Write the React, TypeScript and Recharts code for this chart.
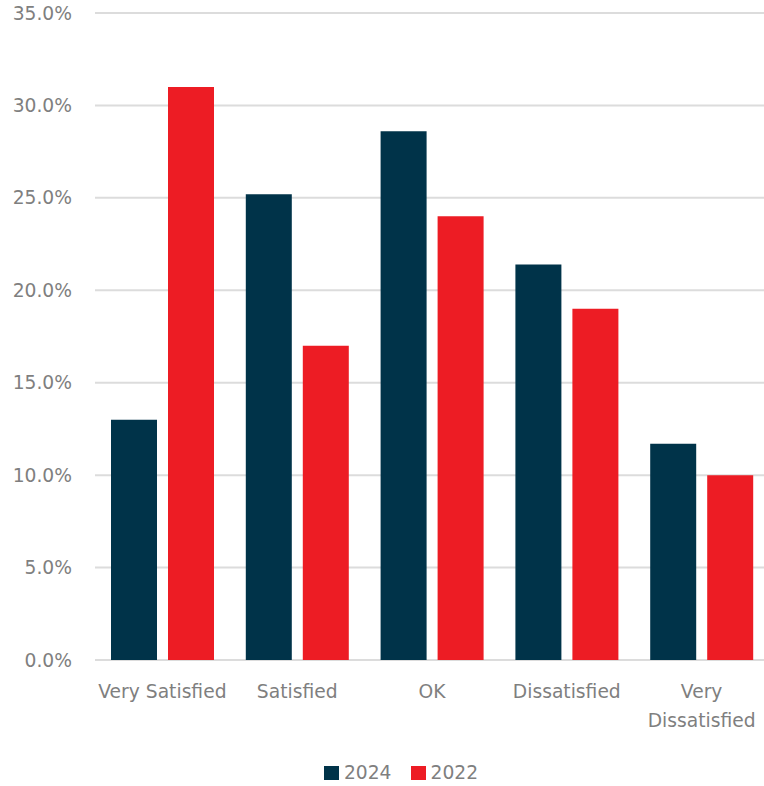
import React from "react";
import { BarChart, Bar, XAxis, YAxis, CartesianGrid, Legend } from "recharts";

// Satisfaction survey results, share of respondents (%)
const categories = ["Very Satisfied", "Satisfied", "OK", "Dissatisfied", "Very Dissatisfied"];
const values2024 = [13.0, 25.2, 28.6, 21.4, 11.7];
const values2022 = [31.0, 17.0, 24.0, 19.0, 10.0];
const seriesNames = ["2024", "2022"];
const yTicks = [0, 5, 10, 15, 20, 25, 30, 35];

const NAVY = "#003349";
const RED = "#ED1C24";
const TEXT = "#7f7f7f";
const FONT = "'DejaVu Sans', sans-serif";
const FONT_SIZE = 18.7;

const data = categories.map((name, i) => ({
  name,
  y2024: values2024[i],
  y2022: values2022[i],
}));

// Long category names are broken onto two lines under the bars
const splitLabel = (label: string): string[] => {
  if (label.length <= 15) return [label];
  const idx = label.indexOf(" ");
  return idx < 0 ? [label] : [label.slice(0, idx), label.slice(idx + 1)];
};

const CategoryTick = (props: any) => {
  const { x, y, payload } = props;
  const lines = splitLabel(String(payload.value));
  return (
    <text
      x={x}
      y={y}
      textAnchor="middle"
      fill={TEXT}
      fontFamily={FONT}
      fontSize={FONT_SIZE}
    >
      {lines.map((line, i) => (
        <tspan key={i} x={x} dy={i === 0 ? 38 : 29}>
          {line}
        </tspan>
      ))}
    </text>
  );
};

// Legend entries kept in series order (2024 first)
const LegendContent = (props: any) => {
  const payload = [...(props.payload || [])].sort(
    (a: any, b: any) => seriesNames.indexOf(a.value) - seriesNames.indexOf(b.value)
  );
  return (
    <div
      style={{
        height: 28,
        display: "flex",
        justifyContent: "center",
        alignItems: "center",
        fontFamily: FONT,
        fontSize: FONT_SIZE,
        color: TEXT,
        paddingLeft: 33,
        boxSizing: "border-box",
      }}
    >
      {payload.map((entry: any, i: number) => (
        <div
          key={i}
          style={{ display: "flex", alignItems: "center", marginRight: i === 0 ? 19 : 0 }}
        >
          <span
            style={{
              display: "inline-block",
              width: 15,
              height: 14,
              background: entry.color,
              marginRight: 5,
              marginTop: 2,
            }}
          />
          <span>{entry.value}</span>
        </div>
      ))}
    </div>
  );
};

export default function App() {
  return (
    <div
      style={{
        position: "absolute",
        left: 0,
        top: 0,
        width: 764,
        height: 786,
        overflow: "hidden",
        background: "#fff",
      }}
    >
      <BarChart
        width={770}
        height={786}
        data={data}
        margin={{ top: 13, right: 1, bottom: 0, left: 0 }}
        barSize={46}
        barGap={11}
      >
        <CartesianGrid vertical={false} stroke="#dcdcdc" strokeWidth={2} />
        <XAxis
          dataKey="name"
          height={98}
          axisLine={false}
          tickLine={false}
          tickSize={0}
          tickMargin={0}
          interval={0}
          tick={<CategoryTick />}
        />
        <YAxis
          width={95}
          domain={[0, 35]}
          ticks={yTicks}
          axisLine={false}
          tickLine={false}
          tickSize={0}
          tickMargin={23}
          tickFormatter={(v: number) => `${v.toFixed(1)}%`}
          tick={{ fill: TEXT, fontFamily: FONT, fontSize: FONT_SIZE }}
        />
        <Legend verticalAlign="bottom" content={<LegendContent />} />
        <Bar dataKey="y2024" name="2024" fill={NAVY} isAnimationActive={false} />
        <Bar dataKey="y2022" name="2022" fill={RED} isAnimationActive={false} />
      </BarChart>
    </div>
  );
}
